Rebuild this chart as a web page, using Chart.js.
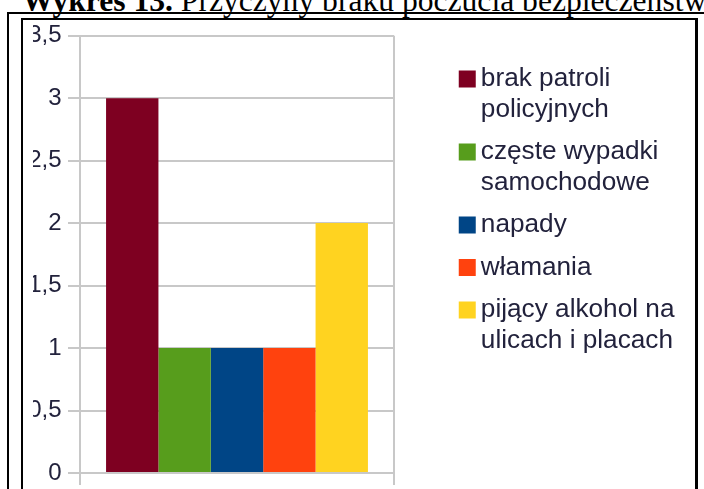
<!DOCTYPE html>
<html>
<head>
<meta charset="utf-8">
<script src="https://cdn.jsdelivr.net/npm/chart.js@4.4.0/dist/chart.umd.min.js"></script>
<style>
  html, body { margin: 0; padding: 0; background: #ffffff; width: 704px; height: 489px; overflow: hidden; }
  .ln { position: absolute; background: #000000; }
  #title { position: absolute; left: 22px; top: -15px; line-height: 31px; font-family: "Liberation Serif", "Times New Roman", serif; font-size: 31.6px; color: #000; white-space: nowrap; }
  #clip { position: absolute; left: 33px; top: 20px; width: 662px; height: 469px; overflow: hidden; }
  #chart { position: absolute; left: -5px; top: 2px; }
</style>
</head>
<body>
<div id="title"><b>Wykres 13.</b> Przyczyny braku poczucia bezpieczeństwa</div>
<div class="ln" style="left:7px; top:12px; width:2px; height:480px;"></div>
<div class="ln" style="left:7px; top:12px; width:700px; height:2px;"></div>
<div class="ln" style="left:21px; top:18px; width:2px; height:480px;"></div>
<div class="ln" style="left:21px; top:18px; width:677px; height:2px;"></div>
<div class="ln" style="left:695px; top:18px; width:3px; height:480px;"></div>
<div id="clip"><canvas id="chart" width="668" height="463"></canvas></div>
<script>
const categories = [''];
const seriesNames = [
  ['brak patroli', 'policyjnych'],
  ['częste wypadki', 'samochodowe'],
  ['napady'],
  ['włamania'],
  ['pijący alkohol na', 'ulicach i placach']
];
const seriesValues = [
  [3],
  [1],
  [1],
  [1],
  [2]
];
const seriesColors = ['#7e0021', '#579d1c', '#004586', '#ff420e', '#ffd320'];
const yTickLabels = ['0', '0,5', '1', '1,5', '2', '2,5', '3', '3,5'];

const gridColor = '#c8c8c8';
const textColor = '#22223c';
const fontFamily = '"Liberation Sans", Arial, sans-serif';
const legendFontSize = 26.2;
const legendPadding = 12;
const legendBoxW = 1;

// size the canvas so the legend (natural width) starts at the wanted place
const canvas = document.getElementById('chart');
const mctx = document.createElement('canvas').getContext('2d');
mctx.font = legendFontSize + 'px ' + fontFamily;
let longest = '';
seriesNames.forEach(arr => arr.forEach(s => { if (s.length >= longest.length) longest = s; }));
const legendW = legendPadding + legendBoxW + legendFontSize / 2 + mctx.measureText(longest).width + 10;
const legendLeft = 454.5 - 28; // in canvas coordinates
canvas.width = Math.ceil(legendLeft + legendW);
canvas.style.width = canvas.width + 'px';

const datasets = seriesValues.map((vals, i) => ({
  label: seriesNames[i].join(' '),
  data: vals,
  backgroundColor: seriesColors[i],
  borderWidth: 0,
  barPercentage: 1,
  categoryPercentage: 0.834
}));

new Chart(canvas, {
  type: 'bar',
  data: { labels: categories, datasets },
  options: {
    responsive: false,
    animation: false,
    layout: { padding: 0 },
    scales: {
      y: {
        min: 0,
        max: 3.5,
        ticks: {
          stepSize: 0.5,
          padding: 6.5,
          color: textColor,
          font: { family: fontFamily, size: 24 },
          callback: (v, i) => yTickLabels[i]
        },
        grid: { color: gridColor, lineWidth: 2, tickLength: 12 },
        border: { display: true, color: gridColor, width: 2 },
        afterFit: (s) => { s.width = 52; s.paddingTop = 13.7; s.paddingBottom = 0; }
      },
      x: {
        ticks: { display: false },
        grid: { color: gridColor, lineWidth: 2, tickLength: 12, offset: true, drawTicks: true },
        border: { display: true, color: gridColor, width: 2 }
      },
      y2: {
        type: 'linear',
        position: 'right',
        display: true,
        grid: { display: false, drawTicks: false },
        ticks: { display: false },
        border: { display: false },
        afterFit: (s) => { s.width = (canvas.width - legendW) - (394 - 28); s.paddingTop = 0; s.paddingBottom = 0; }
      }
    },
    plugins: {
      tooltip: { enabled: false },
      legend: {
        display: true,
        position: 'right',
        align: 'start',
        maxWidth: 2000,
        title: { display: true, text: '', padding: 0, font: { size: 10, lineHeight: '32px' } },
        labels: {
          boxWidth: legendBoxW,
          boxHeight: 1,
          padding: legendPadding,
          color: textColor,
          font: { family: fontFamily, size: legendFontSize, lineHeight: '30.5px' },
          generateLabels: (chart) => {
            const items = Chart.defaults.plugins.legend.labels.generateLabels(chart);
            return items.map((it, i) => Object.assign(it, {
              text: seriesNames[i],
              fillStyle: seriesColors[i],
              strokeStyle: seriesColors[i],
              lineWidth: 16,
              lineJoin: 'miter'
            }));
          }
        }
      }
    }
  }
});
</script>
</body>
</html>
